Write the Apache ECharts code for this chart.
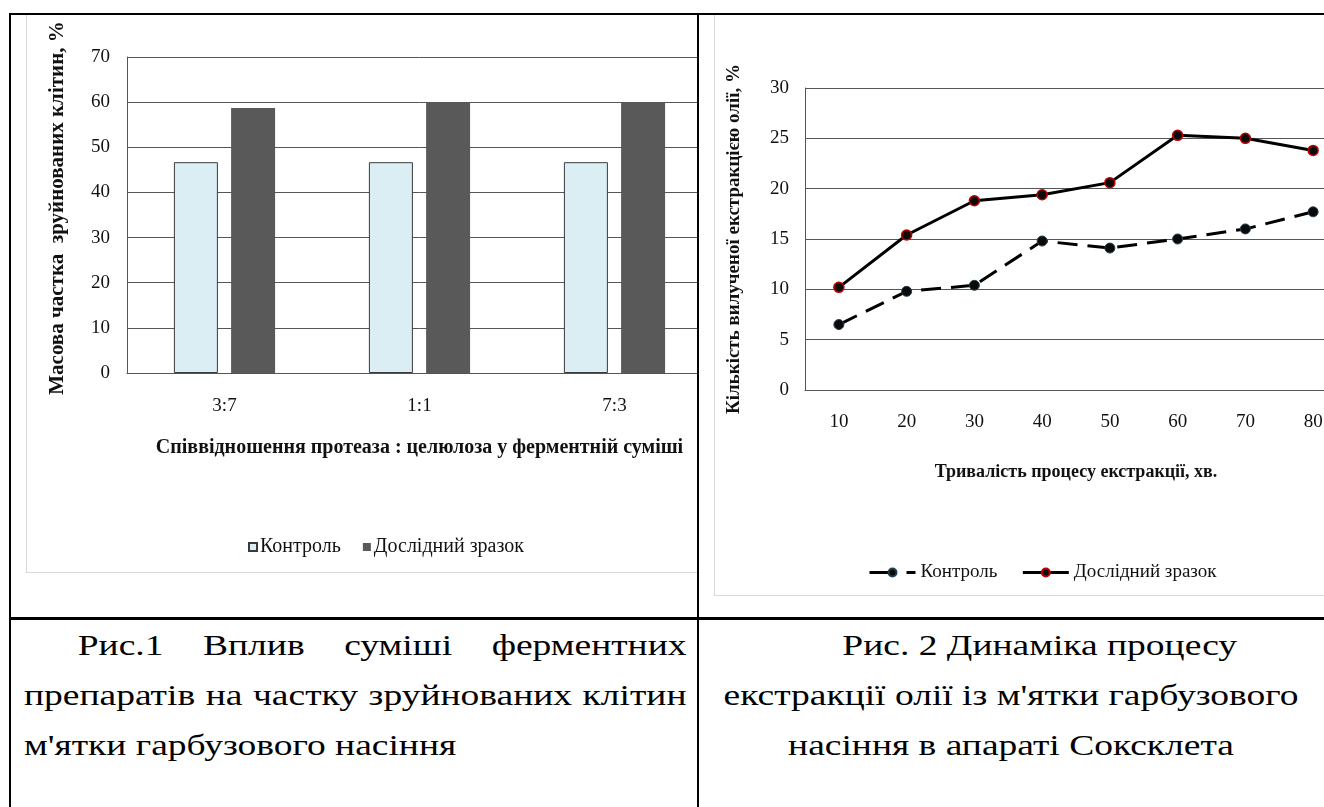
<!DOCTYPE html>
<html lang="uk">
<head>
<meta charset="utf-8">
<title>Рис. 1 і Рис. 2</title>
<script src="https://cdn.jsdelivr.net/npm/echarts@6/dist/echarts.min.js"></script>
<style>
  html, body { margin: 0; padding: 0; background: #fff; }
  body { position: relative; width: 1324px; height: 807px; overflow: hidden;
         font-family: "Liberation Serif", "Times New Roman", serif; color: #000; }
  .rule { position: absolute; background: #000; }
  .clip { position: absolute; overflow: hidden; }
  .panel { position: absolute; border: 1px solid #d9d9d9; background: #fff; }
  .cap { position: absolute; font-size: 30px; line-height: 50px; white-space: nowrap;
         transform: scaleX(1.25); color: #000; }
  .cap .ln { height: 50px; }
  .cap .just { text-align: justify; text-align-last: justify; white-space: normal; }
</style>
</head>
<body>

<div class="clip" style="left:11px; top:15px; width:686px; height:602px;">
  <div id="chartCells" class="panel" style="left:15px; top:-1px; width:728px; height:557px;"></div>
</div>
<div id="chartYield" class="panel" style="left:714px; top:14px; width:680px; height:580px;"></div>

<!-- caption of figure 1: justified paragraph with first-line indent -->
<div class="cap" style="left:24px; top:620px; width:530px; transform-origin:0 0;">
  <div class="ln just" style="padding-left:43px;">Рис.1 Вплив суміші ферментних</div>
  <div class="ln just">препаратів на частку зруйнованих клітин</div>
  <div class="ln">м'ятки гарбузового насіння</div>
</div>

<!-- caption of figure 2: centred paragraph -->
<div class="cap" style="left:751px; top:620px; width:520px; text-align:center; transform-origin:50% 0;">
  <div class="ln" style="padding-left:46px;">Рис. 2 Динаміка процесу</div>
  <div class="ln">екстракції олії із м'ятки гарбузового</div>
  <div class="ln">насіння в апараті Соксклета</div>
</div>

<!-- table rules -->
<div class="rule" style="left:9px; top:13px; width:1400px; height:2px;"></div>
<div class="rule" style="left:9px; top:13px; width:2px; height:800px;"></div>
<div class="rule" style="left:697px; top:13px; width:2px; height:800px;"></div>
<div class="rule" style="left:9px; top:617px; width:1400px; height:3px;"></div>

<script>
// Fig. 1 — share of destroyed cells vs protease : cellulase ratio
const ratioCategories = ['3:7', '1:1', '7:3'];
const controlShare = [46.7, 46.7, 46.7];
const sampleShare = [58.7, 60.0, 60.0];
const shareTicks = { min: 0, max: 70, interval: 10 };

// Fig. 2 — oil yield vs extraction time
const timeCategories = ['10', '20', '30', '40', '50', '60', '70', '80'];
const controlYield = [6.5, 9.8, 10.4, 14.8, 14.1, 15.0, 16.0, 17.7];
const sampleYield = [10.2, 15.4, 18.8, 19.4, 20.6, 25.3, 25.0, 23.8];
const yieldTicks = { min: 0, max: 30, interval: 5 };

const seriesNames = ['Контроль', 'Дослідний зразок'];

const FONT = '"Liberation Serif", "Times New Roman", serif';
const GRID_COLOR = '#555';
const TEXT_COLOR = '#111';

function valueAxis(ticks, name, gap, labelMargin, nameSize, namePad) {
  return {
    type: 'value',
    min: ticks.min, max: ticks.max, interval: ticks.interval,
    name: name, nameLocation: 'middle', nameRotate: 90, nameGap: gap,
    nameTextStyle: { fontFamily: FONT, fontWeight: 'bold', fontSize: nameSize, color: TEXT_COLOR, padding: namePad },
    axisLine: { show: true, lineStyle: { color: GRID_COLOR, width: 1 } },
    axisTick: { show: false },
    axisLabel: { fontFamily: FONT, fontSize: 19, color: TEXT_COLOR, margin: labelMargin },
    splitLine: { show: true, lineStyle: { color: GRID_COLOR, width: 1 } }
  };
}

function categoryAxis(cats, name, gap, labelMargin, nameSize) {
  return {
    type: 'category', data: cats, boundaryGap: true,
    name: name, nameLocation: 'middle', nameGap: gap,
    nameTextStyle: { fontFamily: FONT, fontWeight: 'bold', fontSize: nameSize, color: TEXT_COLOR },
    axisLine: { show: true, onZero: false, lineStyle: { color: GRID_COLOR, width: 1 } },
    axisTick: { show: false },
    axisLabel: { fontFamily: FONT, fontSize: 19, color: TEXT_COLOR, margin: labelMargin, interval: 0 },
    splitLine: { show: false }
  };
}

const cellsChart = echarts.init(document.getElementById('chartCells'), null, { renderer: 'canvas' });
cellsChart.setOption({
  animation: false,
  backgroundColor: '#fff',
  grid: { left: 100, top: 42, width: 585, height: 316, containLabel: false },
  xAxis: categoryAxis(ratioCategories, 'Співвідношення протеаза : целюлоза у ферментній суміші', 65, 24, 20),
  yAxis: valueAxis(shareTicks, 'Масова частка  зруйнованих клітин, %', 59, 17, 21, [0, 0, 0, 14]),
  legend: {
    left: 216, top: 517, itemGap: 22, itemWidth: 8, itemHeight: 8,
    icon: 'rect',
    textStyle: { fontFamily: FONT, fontSize: 20, color: TEXT_COLOR, padding: [0, 0, 0, -2] },
    data: seriesNames
  },
  series: [
    {
      name: seriesNames[0], type: 'bar', data: controlShare,
      barWidth: 44, barGap: '30%',
      itemStyle: { color: '#daeef3', borderColor: '#3a3a3a', borderWidth: 1 }
    },
    {
      name: seriesNames[1], type: 'bar', data: sampleShare,
      barWidth: 44,
      itemStyle: { color: '#595959' }
    }
  ]
});

const yieldChart = echarts.init(document.getElementById('chartYield'), null, { renderer: 'canvas' });
yieldChart.setOption({
  animation: false,
  backgroundColor: '#fff',
  grid: { left: 90, top: 73, width: 542, height: 302, containLabel: false },
  xAxis: categoryAxis(timeCategories, 'Тривалість процесу екстракції, хв.', 73, 23, 18),
  yAxis: valueAxis(yieldTicks, 'Кількість вилученої екстракцією олії, %', 61, 16, 19, 0),
  legend: {
    left: 148, top: 543, itemGap: 24, itemWidth: 46, itemHeight: 10,
    textStyle: { fontFamily: FONT, fontSize: 19, color: TEXT_COLOR },
    data: [
      { name: seriesNames[0], lineStyle: { type: [20, 17], width: 3, color: '#000' } },
      { name: seriesNames[1], lineStyle: { width: 3, color: '#000' } }
    ]
  },
  series: [
    {
      name: seriesNames[0], type: 'line', data: controlYield,
      symbol: 'circle', symbolSize: 10,
      lineStyle: { color: '#000', width: 3, type: [20, 10] },
      itemStyle: { color: '#0a0a0a', borderColor: '#24404f', borderWidth: 1 }
    },
    {
      name: seriesNames[1], type: 'line', data: sampleYield,
      symbol: 'circle', symbolSize: 10,
      lineStyle: { color: '#000', width: 3 },
      itemStyle: { color: '#0a0a0a', borderColor: '#c00000', borderWidth: 1.5 }
    }
  ]
});
</script>
</body>
</html>
